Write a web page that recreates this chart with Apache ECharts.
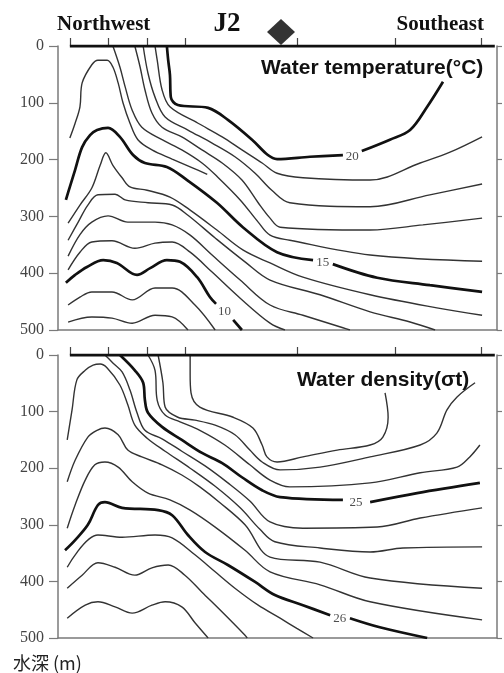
<!DOCTYPE html>
<html><head><meta charset="utf-8">
<script src="https://cdn.jsdelivr.net/npm/echarts@6/dist/echarts.min.js"></script>
<style>html,body{margin:0;padding:0;background:#fff}#c{width:504px;height:673px}</style>
</head><body><div id="c"></div>
<script>
// ---- data: x = distance along section (0-100, NW -> SE), y = depth (m) ----
const stations = [2.7, 11.4, 20.4, 28.9, 54.4, 76.8, 96.4];
const j2Station = [[50.8, 0]];
const surfaceLine = [[2.7, 0], [99.5, 0]];

// Water temperature contours (°C)
const t20a = [[24.8,0],[25.1,25],[25.5,51],[25.7,90],[27.3,104],[34.2,109],[38.7,130],[44.2,165],[47.8,192],[49.9,199],[57.4,195],[64.9,192]];
const t20b = [[69.2,185],[75.6,165],[80.2,148],[84.1,107],[87.7,63]];
const t19 = [[22.1,0],[22.6,25],[23.7,77],[25.5,107],[31.9,136],[37.4,160],[41.9,183],[46.5,206],[49.9,224],[55.8,232],[71.1,236],[82.5,206],[89.3,187],[96.6,160]];
const t18 = [[19.4,0],[20.5,48],[22.1,90],[24.4,125],[29.6,148],[35.1,171],[40.3,195],[44.9,224],[48.7,254],[52.8,276],[71.1,283],[84.7,262],[96.6,243]];
const t17 = [[17.5,0],[18.7,37],[19.8,77],[21.4,118],[23.7,143],[28.2,160],[32.8,183],[37.4,206],[41.9,236],[45.6,276],[48.3,303],[50.6,319],[71.1,324],[83.1,315],[96.6,303]];
const t16 = [[12.5,0],[14.1,37],[15.3,72],[16.9,113],[19.1,143],[23.7,165],[28.2,183],[32.8,206],[36.4,231],[41.5,271],[45.6,310],[48.3,333],[52.8,342],[71.1,368],[96.6,379]];
const t16dome = [[2.7,162],[3.9,136],[5.0,107],[5.5,65],[7.7,33],[9.1,25],[11.2,25],[12.5,37],[13.7,65],[14.8,100],[16.4,136],[18.2,165],[21.4,183],[26.0,199],[30.5,214],[34.0,226]];
const t15a = [[1.8,271],[2.7,248],[3.9,218],[5.5,178],[7.3,157],[8.9,148],[11.4,144],[14.1,160],[17.1,192],[19.8,206],[24.8,213],[29.4,236],[36.2,276],[42.1,319],[49.9,363],[58.1,377]];
const t15b = [[62.6,384],[72.7,408],[84.7,421],[96.6,433]];
const t14 = [[2.3,312],[5.0,280],[7.7,250],[9.6,210],[10.9,188],[12.5,210],[14.6,232],[16.4,248],[20.3,254],[25.5,266],[30.1,289],[36.2,324],[42.1,359],[48.3,382],[55.8,407],[71.1,438],[86.3,461],[96.6,474]];
const t13 = [[2.3,342],[4.6,310],[6.8,280],[9.1,262],[13.0,261],[15.3,271],[20.5,276],[26.0,280],[29.6,298],[35.8,338],[42.6,380],[48.3,412],[59.7,438],[71.1,468],[80.2,486],[85.9,500]];
const t12 = [[2.3,370],[5.0,332],[7.7,310],[11.4,299],[15.9,310],[22.1,310],[26.0,315],[30.1,333],[35.1,368],[41.5,412],[48.3,456],[55.8,474],[64.9,496],[66.5,500]];
const t11 = [[2.3,394],[5.0,363],[7.7,345],[12.3,343],[17.5,356],[22.1,347],[26.0,345],[30.1,363],[35.1,398],[41.5,444],[48.3,488],[51.7,500]];
const t10a = [[1.8,417],[3.9,403],[6.6,389],[10.3,377],[13.4,382],[18.0,403],[21.0,391],[24.8,377],[27.8,380],[31.7,407],[34.6,442],[36.0,454]];
const t10b = [[39.9,482],[41.9,500]];
const t9 = [[2.3,456],[5.0,442],[7.7,433],[12.3,433],[16.9,447],[22.1,426],[26.0,426],[31.2,456],[35.8,500]];
const t8 = [[2.3,486],[7.7,477],[12.3,479],[16.9,488],[22.1,474],[26.0,477],[29.6,500]];
const tempLabels = [[67.0,195,'20'],[60.3,381,'15'],[37.9,468,'10']];

// Water density contours (sigma-t)
const d244 = [[30.1,0],[30.1,35],[30.3,67],[32.3,92],[39.9,110],[44.4,129],[46.5,159],[47.6,180],[49.9,189],[55.8,180],[63.6,168],[71.1,159],[74.0,145],[75.2,110],[74.5,67]];
const d246 = [[22.8,0],[23.9,49],[24.4,92],[27.3,110],[31.2,115],[35.8,124],[40.3,141],[43.7,168],[46.5,189],[50.6,203],[59.7,198],[71.1,180],[82.5,159],[86.3,138],[88.6,97],[90.9,74],[95.0,49]];
const d248 = [[20.5,0],[22.1,27],[22.6,80],[24.4,106],[27.8,118],[32.3,133],[38.0,159],[43.7,194],[48.3,221],[52.8,233],[71.1,226],[82.5,208],[90.9,198],[93.8,180],[96.1,159]];
const d25a = [[14.1,0],[17.5,27],[19.4,49],[19.8,80],[20.5,102],[23.7,127],[28.2,150],[32.8,173],[37.4,191],[41.9,216],[46.5,239],[50.6,251],[64.9,256]];
const d25b = [[71.1,260],[81.8,244],[96.1,226]];
const d252 = [[10.7,0],[12.5,14],[14.6,30],[16.4,62],[18.0,102],[19.8,133],[23.7,148],[28.2,170],[33.5,196],[38.7,226],[43.7,258],[48.3,295],[55.8,306],[72.7,304],[82.5,288],[96.6,270]];
const d254 = [[2.1,150],[3.2,97],[4.3,44],[6.2,27],[8.0,18],[9.6,16],[11.2,23],[14.1,53],[15.9,88],[17.5,124],[20.3,147],[24.4,170],[30.1,200],[35.8,232],[41.5,270],[46.0,308],[49.4,330],[59.7,341],[71.1,348],[78.6,341],[96.6,339]];
const d256 = [[2.1,224],[3.9,186],[6.8,145],[8.9,133],[10.7,129],[13.7,141],[15.9,168],[19.1,180],[23.7,194],[28.2,212],[32.3,233],[36.9,261],[42.6,300],[48.3,357],[59.7,366],[71.1,394],[96.6,412]];
const d258 = [[2.1,306],[3.9,265],[6.2,221],[8.4,194],[10.7,189],[13.7,198],[16.9,224],[20.5,244],[25.5,256],[30.1,274],[35.8,304],[42.6,345],[48.3,383],[59.7,406],[71.1,436],[96.6,468]];
const d26a = [[1.6,345],[3.9,327],[6.8,300],[9.1,265],[10.7,260],[14.6,270],[22.8,274],[26.0,283],[29.6,318],[33.5,348],[38.7,371],[44.9,401],[49.4,424],[55.8,442],[62.0,460]];
const d26b = [[66.5,465],[73.3,481],[84.1,500]];
const d262 = [[2.1,375],[9.1,318],[14.6,322],[22.1,318],[26.0,323],[31.2,353],[35.8,383],[40.3,412],[45.6,442],[50.6,465],[54.4,483],[58.1,500]];
const d264 = [[2.1,412],[5.5,389],[9.1,367],[13.0,375],[17.5,389],[21.4,376],[25.1,371],[28.9,389],[32.8,419],[37.4,454],[42.6,495],[43.1,500]];
const d266 = [[2.1,465],[6.2,442],[9.1,436],[13.0,445],[16.9,456],[21.4,442],[24.4,436],[28.2,445],[31.2,473],[34.2,500]];
const densLabels = [[67.9,260,'25'],[64.2,466,'26']];

const tempThin = [t19,t18,t17,t16,t16dome,t14,t13,t12,t11,t9,t8];
const tempThick = [t20a,t20b,t15a,t15b,t10a,t10b];
const densThin = [d244,d246,d248,d252,d254,d256,d258,d262,d264,d266];
const densThick = [d25a,d25b,d26a,d26b];

// ---- chart ----
const chart = echarts.init(document.getElementById('c'), null, {renderer:'canvas'});
const frame = '#7a7a7a';
function contour(data, g, thick) {
  return {type:'line', xAxisIndex:g, yAxisIndex:g, data:data, symbol:'none', smooth:0.35,
    silent:true, z:3, lineStyle:{color: thick ? '#111' : '#333', width: thick ? 2.7 : 1.4}};
}
function labels(arr, g) {
  return {type:'scatter', xAxisIndex:g, yAxisIndex:g, symbolSize:2, itemStyle:{color:'rgba(0,0,0,0)'}, silent:true, z:5,
    data: arr.map(a => ({value:[a[0],a[1]], name:a[2]})),
    label:{show:true, position:'inside', formatter:'{b}', fontFamily:'Liberation Serif', fontSize:13, color:'#222'}};
}
function surface(g) {
  return {type:'line', xAxisIndex:g, yAxisIndex:g, data:surfaceLine, symbol:'none', silent:true, z:4,
    lineStyle:{color:'#111', width:3.2}};
}
function yAx(g, right) {
  return {type:'value', gridIndex:g, inverse:true, min:0, max:500, interval:100, position: right ? 'right' : 'left',
    axisLine:{show:true, onZero:false, lineStyle:{color:frame, width:1.5}},
    axisTick:{show:true, length: right ? 5 : 9, lineStyle:{color:frame, width:1.2}},
    axisLabel:{show:!right, fontFamily:'Liberation Serif', fontSize:16, color:'#444', margin:14},
    splitLine:{show:false}};
}
function xAx(g, top) {
  return {type:'value', gridIndex:g, min:0, max:100, position: top ? 'top' : 'bottom',
    axisLine:{show:!top, onZero:false, lineStyle:{color:frame, width:1.5}},
    axisTick: top ? {show:true, length:8, customValues:stations, lineStyle:{color:'#444', width:1.2}} : {show:false},
    axisLabel:{show:false}, splitLine:{show:false}};
}

const series = [];
tempThin.forEach(d => series.push(contour(d,0,false)));
tempThick.forEach(d => series.push(contour(d,0,true)));
densThin.forEach(d => series.push(contour(d,1,false)));
densThick.forEach(d => series.push(contour(d,1,true)));
series.push(surface(0), surface(1));
series.push(labels(tempLabels,0), labels(densLabels,1));
series.push({type:'scatter', xAxisIndex:2, yAxisIndex:0, data:j2Station, symbol:'diamond', symbolSize:[28,26],
  symbolOffset:[0,-14], clip:false, itemStyle:{color:'#000'}, silent:true, z:6});

chart.setOption({
  animation:false,
  backgroundColor:'#fff',
  grid:[{left:58, top:46, width:439, height:284}, {left:58, top:355, width:439, height:283}],
  xAxis:[xAx(0,false), xAx(1,false), xAx(0,true), xAx(1,true)],
  yAxis:[yAx(0,false), yAx(1,false), yAx(0,true), yAx(1,true)],
  series: series,
  graphic:[
    {type:'text', x:57, y:25, style:{text:'Northwest', font:'bold 21px "Liberation Serif"', fill:'#111', textVerticalAlign:'middle'}},
    {type:'text', x:227, y:24, style:{text:'J2', font:'bold 27px "Liberation Serif"', fill:'#111', textAlign:'center', textVerticalAlign:'middle'}},
    {type:'text', x:484, y:25, style:{text:'Southeast', font:'bold 21px "Liberation Serif"', fill:'#111', textAlign:'right', textVerticalAlign:'middle'}},
    {type:'text', x:261, y:68, style:{text:'Water temperature(°C)', font:'bold 21px "Liberation Sans"', fill:'#111', textVerticalAlign:'middle'}},
    {type:'text', x:297, y:380, style:{text:'Water density(σt)', font:'bold 21px "Liberation Sans"', fill:'#111', textVerticalAlign:'middle'}},
    {type:'text', x:13, y:663, style:{text:'水深 (m)', font:'18px "Noto Sans CJK JP"', fill:'#222', textVerticalAlign:'middle'}}
  ]
});
</script>
</body></html>
